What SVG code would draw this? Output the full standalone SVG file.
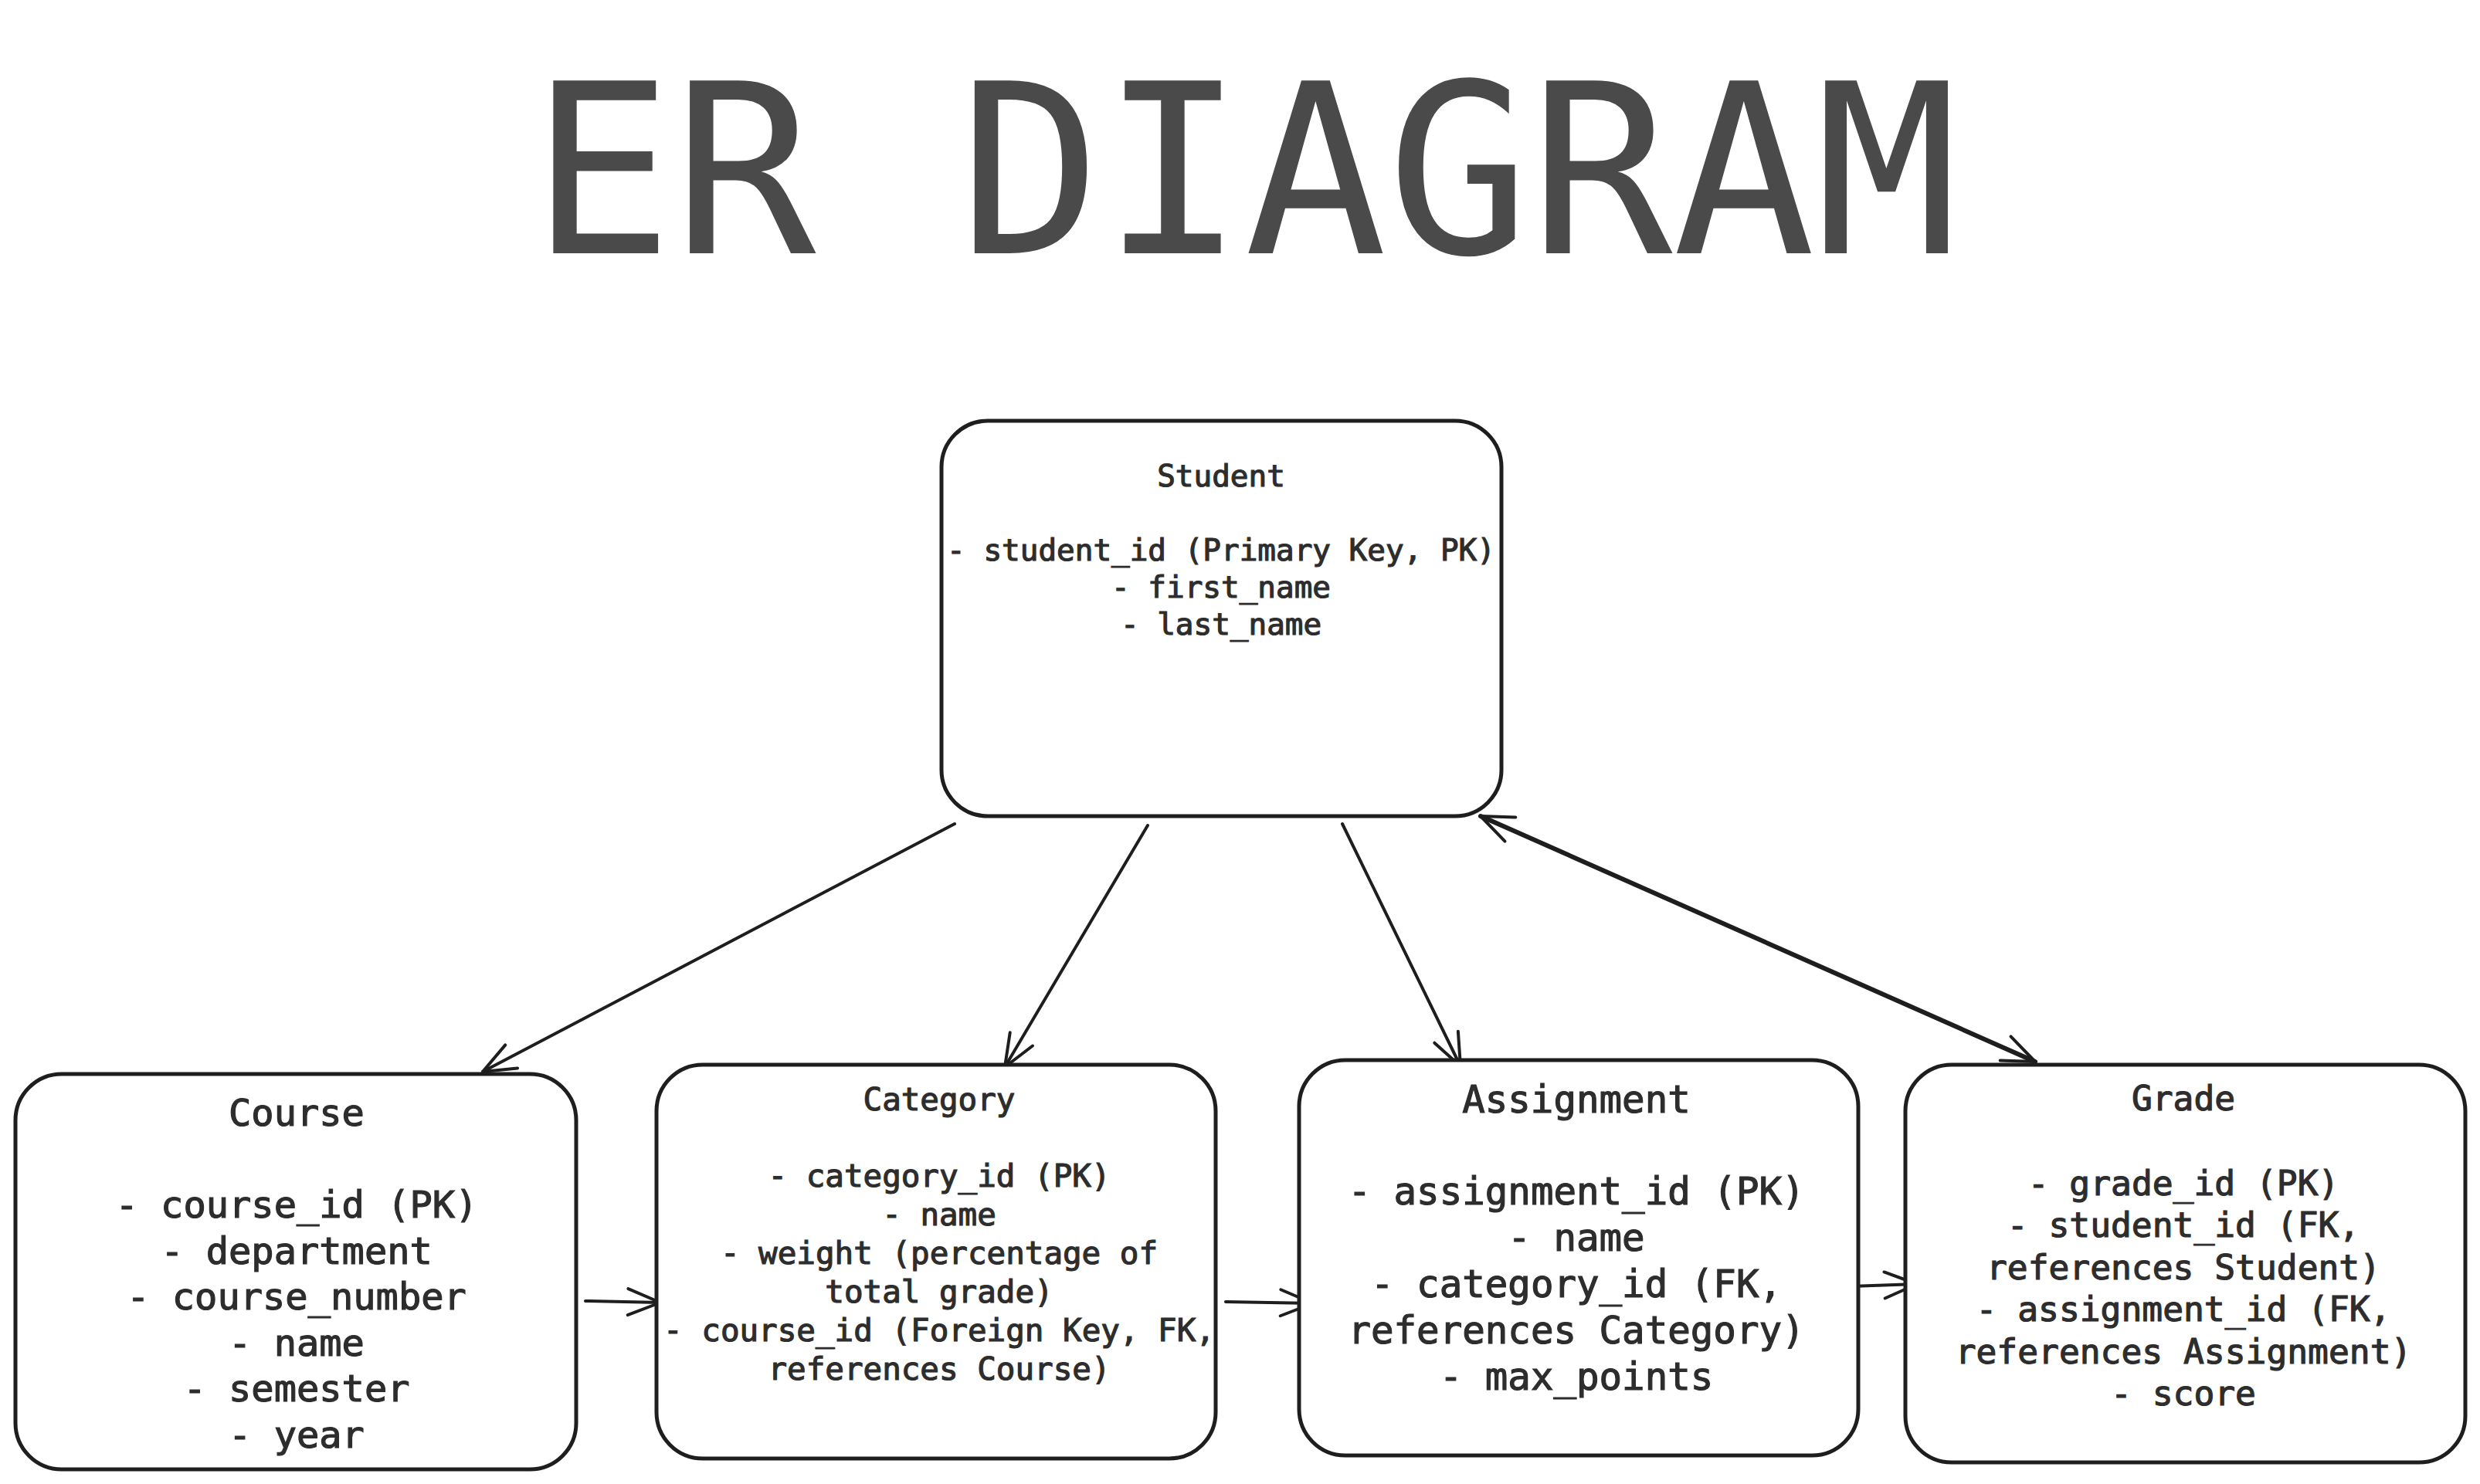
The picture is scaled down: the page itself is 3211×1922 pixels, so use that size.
<svg xmlns="http://www.w3.org/2000/svg" width="3211" height="1922" viewBox="0 0 3211 1922">
<style>
.box{fill:#ffffff;stroke:#1e1e1e;stroke-width:5;}
.t{font-family:"DejaVu Sans Mono","Liberation Mono",monospace;fill:#2d2d2d;stroke:#2d2d2d;stroke-width:1.2;text-anchor:middle;}
.s{font-size:39.3px;}
.c{font-size:48.7px;}
.k{font-size:40.9px;}
.a{font-size:49.1px;}
.g{font-size:44.6px;}
.title{font-family:"DejaVu Sans Mono","Liberation Mono",monospace;fill:#4a4a4a;text-anchor:middle;font-size:307px;}
.conn{fill:none;stroke:#1e1e1e;stroke-width:4;stroke-linecap:round;}
.thick{stroke-width:6;}
</style>
<defs>
<marker id="arr" viewBox="-50 -22 56 44" refX="0" refY="0" markerWidth="56" markerHeight="44" markerUnits="userSpaceOnUse" orient="auto-start-reverse">
<path d="M-42,-17 L0,0 L-42,17" fill="none" stroke="#1e1e1e" stroke-width="4" stroke-linecap="round" stroke-linejoin="round"/>
</marker>
</defs>
<rect width="3211" height="1922" fill="#ffffff"/>
<text class="title" x="1611" y="328">ER DIAGRAM</text>

<g id="connectors">
<path class="conn" d="M1236,1067 L625,1388" marker-end="url(#arr)"/>
<path class="conn" d="M1486,1069 L1301,1382" marker-end="url(#arr)"/>
<path class="conn" d="M1738,1067 L1891,1381" marker-end="url(#arr)"/>
<path class="conn thick" d="M1917,1057 L2635,1375" marker-start="url(#arr)" marker-end="url(#arr)"/>
<path class="conn" d="M758,1685 L855,1687" marker-end="url(#arr)"/>
<path class="conn" d="M1587,1686 L1700,1688" marker-end="url(#arr)"/>
<path class="conn" d="M2396,1666 L2482,1663" marker-end="url(#arr)"/>
</g>

<g id="student">
<rect class="box" x="1219" y="545" width="725" height="512" rx="60"/>
<text class="t s" x="1581" y="630">Student</text>
<text class="t s" x="1581" y="726">- student_id (Primary Key, PK)</text>
<text class="t s" x="1581" y="774">- first_name</text>
<text class="t s" x="1581" y="822">- last_name</text>
</g>

<g id="course">
<rect class="box" x="20" y="1391" width="726" height="512" rx="60"/>
<text class="t c" x="384" y="1458">Course</text>
<text class="t c" x="384" y="1577">- course_id (PK)</text>
<text class="t c" x="384" y="1636.5">- department</text>
<text class="t c" x="384" y="1696">- course_number</text>
<text class="t c" x="384" y="1755.5">- name</text>
<text class="t c" x="384" y="1815">- semester</text>
<text class="t c" x="384" y="1874.5">- year</text>
</g>

<g id="category">
<rect class="box" x="850" y="1379" width="724" height="510" rx="60"/>
<text class="t k" x="1216" y="1437.5">Category</text>
<text class="t k" x="1216" y="1537">- category_id (PK)</text>
<text class="t k" x="1216" y="1587">- name</text>
<text class="t k" x="1216" y="1637">- weight (percentage of</text>
<text class="t k" x="1216" y="1687">total grade)</text>
<text class="t k" x="1216" y="1737">- course_id (Foreign Key, FK,</text>
<text class="t k" x="1216" y="1787">references Course)</text>
</g>

<g id="assignment">
<rect class="box" x="1682" y="1373" width="724" height="512" rx="60"/>
<text class="t a" x="2041" y="1440.5">Assignment</text>
<text class="t a" x="2041" y="1560">- assignment_id (PK)</text>
<text class="t a" x="2041" y="1620">- name</text>
<text class="t a" x="2041" y="1680">- category_id (FK,</text>
<text class="t a" x="2041" y="1740">references Category)</text>
<text class="t a" x="2041" y="1800">- max_points</text>
</g>

<g id="grade">
<rect class="box" x="2467" y="1379" width="725" height="515" rx="60"/>
<text class="t g" x="2827" y="1438">Grade</text>
<text class="t g" x="2827" y="1547.5">- grade_id (PK)</text>
<text class="t g" x="2827" y="1602">- student_id (FK,</text>
<text class="t g" x="2827" y="1656.5">references Student)</text>
<text class="t g" x="2827" y="1711">- assignment_id (FK,</text>
<text class="t g" x="2827" y="1765.5">references Assignment)</text>
<text class="t g" x="2827" y="1820">- score</text>
</g>
</svg>
